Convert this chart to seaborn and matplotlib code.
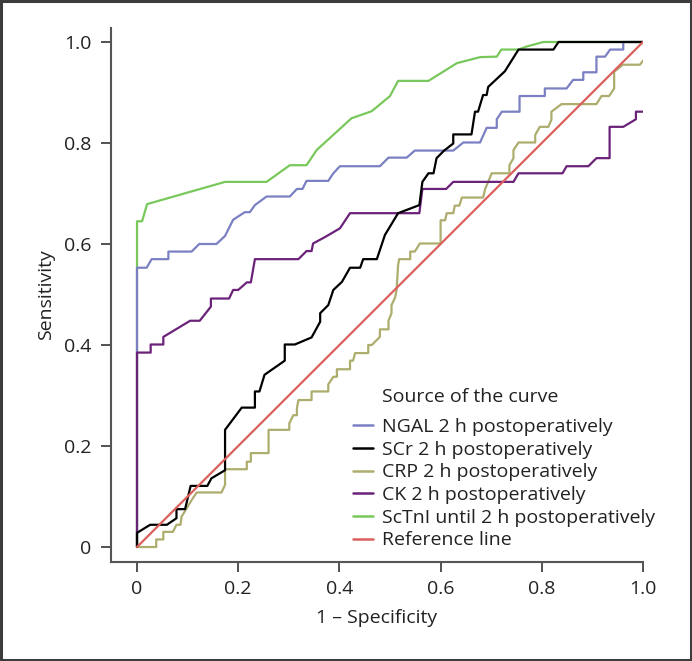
import numpy as np
import pandas as pd
import matplotlib
matplotlib.use("Agg")
import matplotlib.pyplot as plt
import seaborn as sns
from matplotlib.lines import Line2D
from matplotlib.patches import Rectangle

# ---------------- data ----------------
ngal_x = [0, 0, 0.019, 0.029, 0.062, 0.062, 0.108, 0.123, 0.157, 0.174,
          0.19, 0.213, 0.223, 0.233, 0.256, 0.302, 0.316, 0.327, 0.335, 0.378,
          0.388, 0.401, 0.48, 0.497, 0.533, 0.549, 0.625, 0.645, 0.678, 0.691,
          0.711, 0.711, 0.721, 0.756, 0.756, 0.806, 0.806, 0.849, 0.862, 0.882,
          0.882, 0.908, 0.908, 0.925, 0.935, 0.961, 0.961, 1.0]
ngal_y = [0, 0.553, 0.553, 0.57, 0.57, 0.585, 0.585, 0.6, 0.6, 0.616,
          0.648, 0.663, 0.663, 0.677, 0.694, 0.694, 0.709, 0.709, 0.725, 0.725,
          0.74, 0.754, 0.754, 0.771, 0.771, 0.785, 0.785, 0.801, 0.801, 0.83,
          0.83, 0.847, 0.862, 0.862, 0.893, 0.893, 0.908, 0.908, 0.925, 0.925,
          0.94, 0.94, 0.971, 0.971, 0.985, 0.985, 1.0, 1.0]

scr_x = [0, 0, 0.026, 0.059, 0.078, 0.078, 0.095, 0.106, 0.139, 0.147,
         0.174, 0.174, 0.207, 0.233, 0.233, 0.242, 0.252, 0.292, 0.292, 0.312,
         0.345, 0.362, 0.362, 0.378, 0.388, 0.405, 0.421, 0.441, 0.447, 0.474,
         0.49, 0.516, 0.558, 0.564, 0.576, 0.586, 0.592, 0.607, 0.625, 0.625,
         0.661, 0.668, 0.674, 0.684, 0.691, 0.694, 0.727, 0.754, 0.823, 0.833,
         1.0]
scr_y = [0, 0.028, 0.044, 0.044, 0.057, 0.075, 0.075, 0.121, 0.121, 0.136,
         0.152, 0.232, 0.276, 0.276, 0.308, 0.308, 0.341, 0.369, 0.401, 0.401,
         0.415, 0.446, 0.463, 0.479, 0.509, 0.525, 0.553, 0.553, 0.57, 0.57,
         0.618, 0.661, 0.677, 0.723, 0.74, 0.74, 0.77, 0.785, 0.799, 0.817,
         0.817, 0.862, 0.862, 0.895, 0.895, 0.911, 0.942, 0.985, 0.985, 1.0,
         1.0]

crp_x = [0, 0.038, 0.038, 0.052, 0.052, 0.071, 0.078, 0.086, 0.088, 0.108,
         0.118, 0.167, 0.174, 0.174, 0.217, 0.217, 0.225, 0.225, 0.26, 0.26,
         0.301, 0.301, 0.309, 0.316, 0.316, 0.319, 0.345, 0.345, 0.378, 0.378,
         0.388, 0.395, 0.395, 0.421, 0.421, 0.427, 0.431, 0.457, 0.457, 0.464,
         0.48, 0.48, 0.497, 0.497, 0.503, 0.503, 0.51, 0.513, 0.516, 0.518,
         0.54, 0.54, 0.549, 0.559, 0.6, 0.6, 0.609, 0.612, 0.625, 0.628,
         0.637, 0.642, 0.684, 0.688, 0.694, 0.701, 0.736, 0.736, 0.744, 0.744,
         0.754, 0.787, 0.787, 0.796, 0.813, 0.819, 0.819, 0.839, 0.908, 0.918,
         0.933, 0.943, 0.943, 0.96, 0.994, 1.0]
crp_y = [0, 0, 0.015, 0.015, 0.03, 0.03, 0.044, 0.044, 0.06, 0.093,
         0.108, 0.108, 0.123, 0.154, 0.154, 0.169, 0.169, 0.186, 0.186, 0.232,
         0.232, 0.245, 0.261, 0.261, 0.275, 0.291, 0.291, 0.308, 0.308, 0.322,
         0.337, 0.337, 0.352, 0.352, 0.369, 0.369, 0.384, 0.384, 0.4, 0.4,
         0.416, 0.431, 0.431, 0.448, 0.463, 0.479, 0.494, 0.509, 0.558, 0.57,
         0.57, 0.585, 0.585, 0.601, 0.601, 0.647, 0.647, 0.661, 0.661, 0.676,
         0.676, 0.692, 0.692, 0.709, 0.723, 0.74, 0.74, 0.756, 0.77, 0.786,
         0.801, 0.801, 0.816, 0.832, 0.832, 0.846, 0.862, 0.877, 0.877, 0.893,
         0.893, 0.908, 0.941, 0.955, 0.955, 0.963]

ck_x = [0, 0, 0.027, 0.027, 0.052, 0.052, 0.105, 0.124, 0.146, 0.146,
        0.182, 0.19, 0.2, 0.217, 0.225, 0.233, 0.319, 0.335, 0.345, 0.348,
        0.372, 0.401, 0.421, 0.558, 0.564, 0.611, 0.625, 0.744, 0.754, 0.841,
        0.849, 0.892, 0.908, 0.934, 0.934, 0.961, 0.986, 0.986, 1.0]
ck_y = [0, 0.385, 0.385, 0.401, 0.401, 0.416, 0.448, 0.448, 0.476, 0.492,
        0.492, 0.509, 0.509, 0.524, 0.524, 0.57, 0.57, 0.586, 0.586, 0.601,
        0.614, 0.631, 0.661, 0.661, 0.709, 0.709, 0.723, 0.723, 0.74, 0.74,
        0.754, 0.754, 0.77, 0.77, 0.832, 0.832, 0.847, 0.862, 0.862]

sctni_x = [0, 0, 0.01, 0.02, 0.174, 0.256, 0.302, 0.335, 0.355, 0.424,
           0.464, 0.5, 0.516, 0.576, 0.632, 0.678, 0.711, 0.72, 0.754, 0.77,
           0.803, 1.0]
sctni_y = [0, 0.645, 0.645, 0.679, 0.723, 0.723, 0.756, 0.756, 0.786, 0.849,
           0.863, 0.893, 0.923, 0.923, 0.958, 0.97, 0.971, 0.985, 0.985, 0.991,
           1.0, 1.0]

ref_x = [0, 1]
ref_y = [0, 1]

labels = ["NGAL 2 h postoperatively", "SCr 2 h postoperatively",
          "CRP 2 h postoperatively", "CK 2 h postoperatively",
          "ScTnI until 2 h postoperatively", "Reference line"]
tick_vals = [0, 0.2, 0.4, 0.6, 0.8, 1.0]
tick_text = ["0", "0.2", "0.4", "0.6", "0.8", "1.0"]
colors = ["#7a80c2", "#000000", "#adad6e", "#6b2279", "#79c85c", "#d9605d"]
series = [(ngal_x, ngal_y), (scr_x, scr_y), (crp_x, crp_y),
          (ck_x, ck_y), (sctni_x, sctni_y), (ref_x, ref_y)]
zorders = [3, 6, 4, 5, 2, 7]

# ---------------- plot ----------------
sns.set_theme(style="white")
plt.rcParams["font.family"] = ["Open Sans", "DejaVu Sans"]

W, H = 692, 661
fig = plt.figure(figsize=(W / 100, H / 100), dpi=100)
ax = fig.add_axes([111 / W, 1 - 561.5 / H, (643 - 111) / W, (561.5 - 28) / H])

for (xs, ys), lab, col, z in zip(series, labels, colors, zorders):
    df = pd.DataFrame({"x": xs, "y": ys})
    sns.lineplot(data=df, x="x", y="y", sort=False, estimator=None,
                 color=col, lw=1.6, ax=ax, zorder=z, legend=False)

ax.set_xlim(-0.0514, 1.0)
ax.set_ylim(-0.0287, 1.0277)
ax.set_xticks(tick_vals)
ax.set_xticklabels(tick_text)
ax.set_yticks(tick_vals)
ax.set_yticklabels(tick_text)

fs = 14
ax.tick_params(axis="both", direction="out", length=7.2, width=1.3,
               color="#444444", labelsize=fs, labelcolor="#222222",
               bottom=True, left=True)
ax.tick_params(axis="x", pad=6)
ax.tick_params(axis="y", pad=7)
for side in ["top", "right"]:
    ax.spines[side].set_visible(False)
for side in ["left", "bottom"]:
    ax.spines[side].set_color("#555555")
    ax.spines[side].set_linewidth(1.5)

ax.set_xlabel("1 – Specificity", fontsize=fs, color="#222222", labelpad=8)
ax.set_ylabel("Sensitivity", fontsize=fs, color="#222222", labelpad=6)

handles = [Line2D([], [], color=c, lw=1.8) for c in colors]
leg = ax.legend(handles, labels, loc="upper left",
                bbox_to_anchor=(353 / W, 1 - 418 / H),
                bbox_transform=fig.transFigure, frameon=False,
                fontsize=fs, handlelength=1.03, handletextpad=0.46,
                labelspacing=0.24, borderpad=0, borderaxespad=0)
for t in leg.get_texts():
    t.set_color("#222222")
fig.text(382 / W, 1 - 397 / H, "Source of the curve", fontsize=fs,
         color="#222222", ha="left", va="center")

fig.patches.append(Rectangle((0.0015, 0.0015), 0.997, 0.997,
                             transform=fig.transFigure, fill=False,
                             edgecolor="#3c3c3c", lw=2.2))

fig.savefig("out.png", dpi=100)
